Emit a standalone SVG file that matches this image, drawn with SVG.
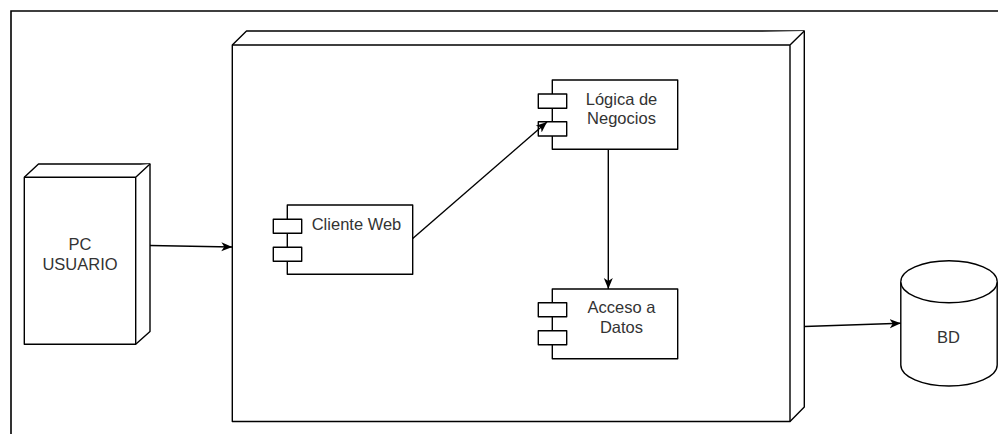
<svg xmlns="http://www.w3.org/2000/svg" width="998" height="434" viewBox="0 0 998 434">
  <style>
    .edge { fill: none; stroke: #000; stroke-width: 1.4; }
    .shape { fill: #fff; stroke: #000; stroke-width: 1.4; stroke-linejoin: round; }
    .label { font-family: "Liberation Sans", Arial, sans-serif; font-size: 16.5px; fill: #333; text-anchor: middle; }
  </style>
  <defs>
    <marker id="arrow" markerUnits="userSpaceOnUse" markerWidth="12" markerHeight="10" refX="11" refY="5" orient="auto">
      <path d="M0,0.5 L11,5 L0,9.5 L3,5 Z" fill="#000"/>
    </marker>
  </defs>

  <rect width="998" height="434" fill="#fff"/>

  <!-- page frame -->
  <path d="M11,434 V11 H998" fill="none" stroke="#000" stroke-width="1.6"/>

  <!-- client machine -->
  <g id="pc-usuario">
    <path class="shape" d="M24.3,177.3 L38.5,164 H150 V331.5 L135.7,344.3 H24.3 Z"/>
    <path class="shape" fill="none" d="M24.3,177.3 H135.7 L150,164 M135.7,177.3 V344.3"/>
    <text class="label" x="80" y="250">PC</text>
    <text class="label" x="80" y="270">USUARIO</text>
  </g>

  <!-- application server -->
  <g id="servidor">
    <path class="shape" d="M232.3,45 L246.5,31 H804.3 V407 L790,421.5 H232.3 Z"/>
    <path class="shape" fill="none" d="M232.3,45 H790 L804.3,31 M790,45 V421.5"/>
  </g>

  <g id="cliente-web">
    <rect class="shape" x="287.3" y="205" width="125.4" height="69.3"/>
    <rect class="shape" x="273.3" y="219.3" width="28.4" height="14"/>
    <rect class="shape" x="273.3" y="247.3" width="28.4" height="14"/>
    <text class="label" x="356.5" y="230">Cliente Web</text>
  </g>

  <g id="logica-negocios">
    <rect class="shape" x="552.3" y="80" width="125.4" height="69.3"/>
    <rect class="shape" x="538.3" y="94" width="28.4" height="14.3"/>
    <rect class="shape" x="538.3" y="121.7" width="28.4" height="14.3"/>
    <text class="label" x="621.5" y="105">Lógica de</text>
    <text class="label" x="621.5" y="124.3">Negocios</text>
  </g>

  <g id="acceso-datos">
    <rect class="shape" x="552.3" y="289" width="125.4" height="69.7"/>
    <rect class="shape" x="538.3" y="302.7" width="28.4" height="14"/>
    <rect class="shape" x="538.3" y="330.7" width="28.4" height="14"/>
    <text class="label" x="621.5" y="313.3">Acceso a</text>
    <text class="label" x="621.5" y="332.7">Datos</text>
  </g>

  <g id="bd">
    <path class="shape" d="M900.8,281.7 A48.2,21 0 0 1 997.2,281.7 V365 A48.2,21 0 0 1 900.8,365 Z"/>
    <path class="shape" fill="none" d="M900.8,281.7 A48.2,21 0 0 0 997.2,281.7"/>
    <text class="label" x="948.5" y="342.5">BD</text>
  </g>

  <!-- connectors -->
  <g id="connectors">
    <path class="edge" d="M150,245.5 L232.3,247" marker-end="url(#arrow)"/>
    <path class="edge" d="M412.7,238.5 L547,122" marker-end="url(#arrow)"/>
    <path class="edge" d="M608.3,149.3 V289" marker-end="url(#arrow)"/>
    <path class="edge" d="M804.3,326.5 L900.8,323.3" marker-end="url(#arrow)"/>
  </g>
</svg>
